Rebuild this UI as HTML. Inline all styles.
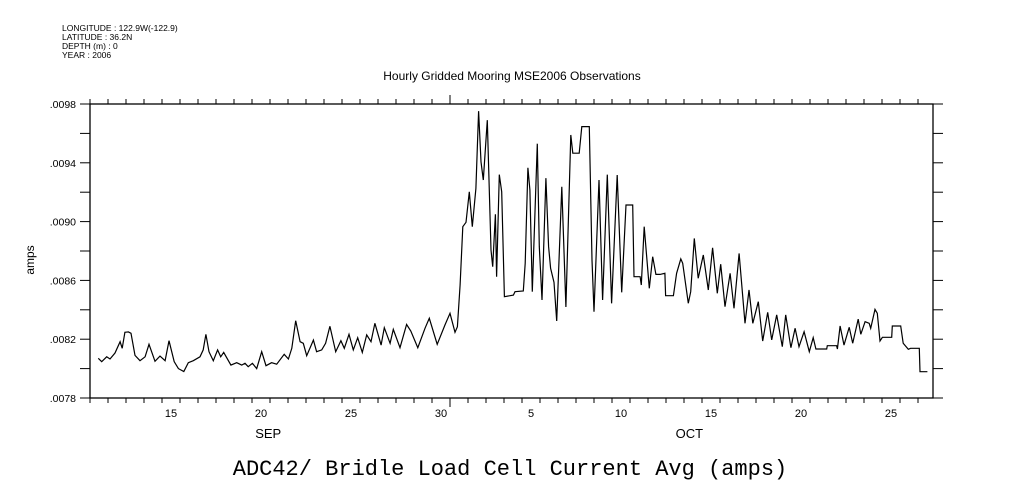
<!DOCTYPE html>
<html><head><meta charset="utf-8"><style>
body{margin:0;background:#fff;width:1009px;height:504px;overflow:hidden}
svg{display:block}
text{font-family:"Liberation Sans",sans-serif;fill:#000}
</style></head><body>
<svg id="chart" width="1009" height="504">
<g font-size="8.5">
<text x="62" y="31">LONGITUDE : 122.9W(-122.9)</text>
<text x="62" y="40">LATITUDE : 36.2N</text>
<text x="62" y="49">DEPTH (m) : 0</text>
<text x="62" y="58">YEAR : 2006</text>
</g>
<text x="512" y="80" text-anchor="middle" font-size="12">Hourly Gridded Mooring MSE2006 Observations</text>
<text transform="translate(34,260) rotate(-90)" text-anchor="middle" font-size="12">amps</text>
<text x="510" y="475" text-anchor="middle" font-size="22" style="font-family:'Liberation Mono',monospace">ADC42/ Bridle Load Cell Current Avg (amps)</text>
<g id="axes"></g>
<g id="series"></g>
</svg>
<script>
const days=[0.46,0.65,0.93,1.11,1.39,1.67,1.79,1.94,2.13,2.28,2.5,2.78,3.06,3.28,3.61,3.89,4.17,4.39,4.68,4.91,5.21,5.46,5.74,6.11,6.29,6.44,6.61,6.85,7.09,7.26,7.43,7.83,8.15,8.43,8.61,8.79,9.02,9.26,9.54,9.78,10.09,10.37,10.79,11.02,11.21,11.43,11.67,11.85,12.04,12.41,12.59,12.87,13.09,13.33,13.65,13.94,14.13,14.39,14.63,14.87,15.13,15.37,15.61,15.83,16.17,16.35,
16.67,16.85,17.22,17.59,17.82,18.21,18.61,18.85,19.29,19.72,20.0,20.28,20.41,20.56,20.71,20.89,21.07,21.24,21.44,21.59,21.72,21.85,22.07,22.28,22.37,22.52,22.59,22.74,22.87,23.02,23.52,23.61,24.07,24.18,24.33,24.44,24.57,24.85,24.96,25.11,25.33,25.48,25.59,25.78,25.93,26.21,26.44,26.71,26.82,27.18,27.32,27.74,27.89,28.0,28.28,28.48,28.74,28.98,29.29,29.54,29.78,30.15,30.22,30.56,30.63,30.79,31.07,31.26,31.44,31.67,
31.94,31.98,32.41,32.59,32.82,32.93,33.24,33.37,33.57,33.79,34.07,34.35,34.59,34.85,35.04,35.28,35.56,35.78,36.06,36.39,36.61,36.82,37.13,37.37,37.65,37.87,38.15,38.46,38.65,38.94,39.17,39.39,39.67,39.96,40.18,40.33,40.93,40.96,41.48,41.52,41.67,41.89,42.18,42.37,42.68,42.82,43.06,43.29,43.37,43.61,43.74,43.89,44.02,44.54,44.57,45.04,45.18,45.46,45.59,46.07,46.11,46.52];
const amps=[80.7,80.47,80.8,80.65,81.06,81.83,81.38,82.47,82.5,82.4,80.9,80.54,80.8,81.65,80.5,80.85,80.54,81.9,80.47,80.0,79.8,80.4,80.54,80.8,81.27,82.33,81.15,80.54,81.27,80.8,81.1,80.24,80.4,80.24,80.36,80.13,80.36,80.0,81.15,80.2,80.4,80.3,80.97,80.65,81.38,83.26,81.83,81.72,80.88,81.94,81.15,81.27,81.72,82.88,81.15,81.9,81.38,82.33,81.27,82.1,81.1,82.29,81.83,83.08,81.6,82.78,
81.72,82.67,81.42,83.0,82.56,81.42,82.74,83.42,81.65,82.97,83.76,82.47,82.85,85.69,89.65,89.95,92.03,89.65,92.26,97.52,94.07,92.83,96.9,88.07,86.93,90.5,86.25,93.2,92.03,84.89,85.0,85.23,85.28,87.16,93.66,92.15,85.23,95.3,88.29,84.67,92.95,88.29,86.82,85.87,83.24,92.37,84.19,95.89,94.65,94.65,96.46,96.46,87.39,83.87,92.83,84.67,93.2,84.44,93.17,85.19,91.13,91.13,86.25,86.25,85.69,89.65,85.46,87.61,86.41,86.41,
86.48,84.96,84.96,86.48,87.46,87.16,84.44,85.23,88.86,86.14,87.73,85.35,88.22,85.12,87.1,84.21,86.48,84.1,87.84,83.08,85.35,83.08,84.55,81.88,83.83,81.95,83.65,81.49,83.65,81.42,82.74,81.49,82.51,81.15,82.1,81.33,81.33,81.56,81.56,81.33,82.9,81.6,82.81,81.72,83.37,82.33,83.19,83.08,82.74,84.03,83.76,81.88,82.13,82.13,82.9,82.9,81.72,81.31,81.38,81.38,79.79,79.79];
const yTicks=[78,82,86,90,94,98];
const yTickLabels=[".0078",".0082",".0086",".0090",".0094",".0098"];
const xTickDays=[15,20,25,30,35,40,45,50,55];
const xTickLabels=["15","20","25","30","5","10","15","20","25"];
const months=["SEP","OCT"];
const monthDays=[20.9,44.3];

const X0=90,X1=933,Y0=398,Y1=104;
const x=d=>X0+(d-11)*18;
const xt=t=>x(11+t);
const y=v=>Y0-(v-78)/20*(Y0-Y1);
const NS="http://www.w3.org/2000/svg";
const ax=document.getElementById('axes');
function mk(tag,attrs,parent){const e=document.createElementNS(NS,tag);for(const k in attrs)e.setAttribute(k,attrs[k]);parent.appendChild(e);return e;}
const frame=mk('rect',{x:X0,y:Y1,width:X1-X0,height:Y0-Y1,fill:'none',stroke:'#000','stroke-width':1.3},ax);


for(let v=78;v<=98.01;v+=2){
  const yy=y(v);
  const t1=mk('line',{x1:X0-10,x2:X0,y1:yy,y2:yy,stroke:'#000'},ax);
  
  
  const t2=mk('line',{x1:X1,x2:X1+10,y1:yy,y2:yy,stroke:'#000'},ax);
  
  
}
yTicks.forEach((v,i)=>{
  const t=mk('text',{x:76,y:y(v)+4,'text-anchor':'end','font-size':10.5},ax);
  t.textContent=yTickLabels[i];
  
  
});
for(let d=11;d<=57;d++){
  const xx=x(d);if(xx>X1)break;
  const big=(d===31);
  const a=mk('line',{x1:xx,x2:xx,y1:Y1-(big?9:5),y2:Y1,stroke:'#000'},ax);
  
  
  const b=mk('line',{x1:xx,x2:xx,y1:Y0,y2:Y0+(big?9:5),stroke:'#000'},ax);
  
  
}
xTickDays.forEach((d,i)=>{
  const t=mk('text',{x:x(d+0.5),y:417,'text-anchor':'middle','font-size':11},ax);
  t.textContent=xTickLabels[i];
  
  
});
months.forEach((m,i)=>{
  const t=mk('text',{x:x(monthDays[i]),y:438,'text-anchor':'middle','font-size':13},ax);
  t.textContent=m;
  
  
});
const pts=days.map((t,i)=>xt(t).toFixed(1)+','+y(amps[i]).toFixed(1)).join(' ');
const line=mk('polyline',{points:pts,fill:'none',stroke:'#000','stroke-width':1.2},document.getElementById('series'));


</script>
</body></html>
